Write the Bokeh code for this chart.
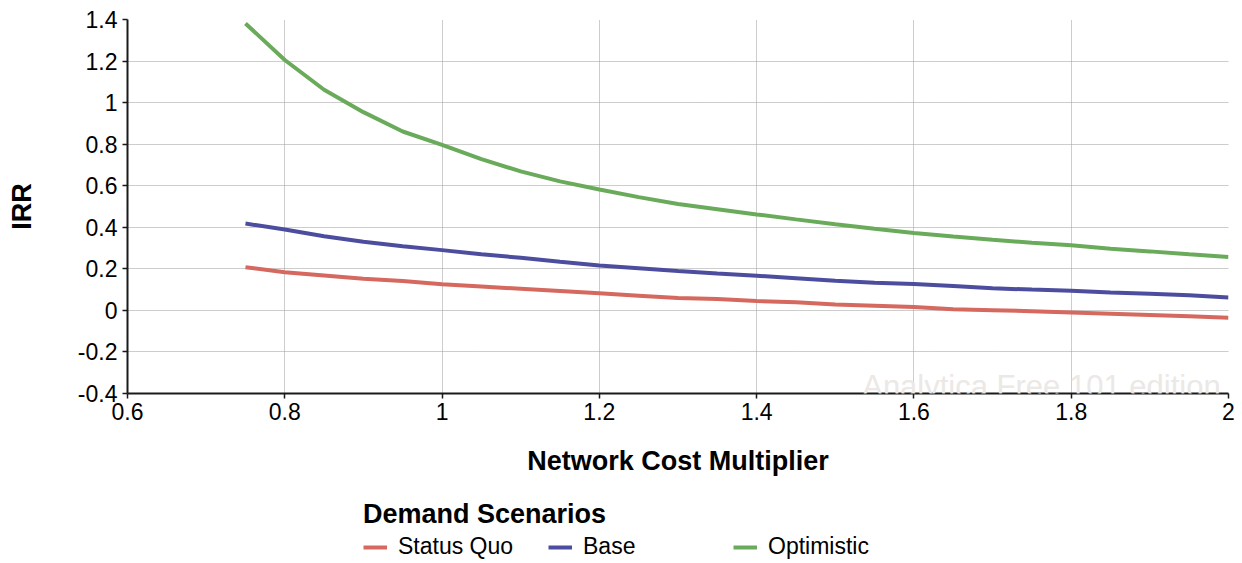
from bokeh.plotting import figure
from bokeh.layouts import column
from bokeh.models import Legend, LegendItem, FixedTicker, CustomJSTickFormatter, Label
from bokeh.embed import file_html
from bokeh.resources import INLINE

# ---- data ----
multiplier = [0.75, 0.80, 0.85, 0.90, 0.95, 1.00, 1.05, 1.10, 1.15, 1.20, 1.25, 1.30, 1.35,
              1.40, 1.45, 1.50, 1.55, 1.60, 1.65, 1.70, 1.75, 1.80, 1.85, 1.90, 1.95, 2.00]
status_quo = [0.208, 0.184, 0.168, 0.152, 0.141, 0.126, 0.115, 0.104, 0.093, 0.082, 0.071, 0.060, 0.055,
              0.045, 0.039, 0.028, 0.022, 0.016, 0.006, 0.001, -0.004, -0.010, -0.016, -0.022, -0.028, -0.035]
base = [0.418, 0.389, 0.357, 0.330, 0.309, 0.290, 0.270, 0.253, 0.234, 0.216, 0.203, 0.190, 0.178,
        0.167, 0.155, 0.143, 0.133, 0.127, 0.117, 0.106, 0.100, 0.095, 0.086, 0.080, 0.073, 0.062]
optimistic = [1.381, 1.205, 1.062, 0.954, 0.861, 0.797, 0.728, 0.669, 0.621, 0.582, 0.545, 0.512, 0.487,
              0.462, 0.438, 0.415, 0.393, 0.373, 0.356, 0.340, 0.325, 0.313, 0.297, 0.284, 0.270, 0.257]
series_names = ["Status Quo", "Base", "Optimistic"]
series_colors = ["#d5695f", "#4d4d9f", "#6aab5b"]
x_ticks = [0.6, 0.8, 1.0, 1.2, 1.4, 1.6, 1.8, 2.0]
y_ticks = [-0.4, -0.2, 0.0, 0.2, 0.4, 0.6, 0.8, 1.0, 1.2, 1.4]

FONT = "Liberation Sans"
W = 1240

p = figure(width=W, height=480, x_range=(0.6, 2.0), y_range=(-0.4, 1.4),
           output_backend="svg", toolbar_location=None,
           min_border_left=127, min_border_right=12, min_border_top=19, min_border_bottom=87)
p.outline_line_color = None
p.background_fill_color = "white"
p.border_fill_color = "white"

series = [status_quo, base, optimistic]
for ys, col in zip(series, series_colors):
    p.line(multiplier, ys, line_color=col, line_width=4)

# axes
fmt = CustomJSTickFormatter(code="return String(Number(tick.toFixed(2)));")
p.xaxis.ticker = FixedTicker(ticks=x_ticks)
p.yaxis.ticker = FixedTicker(ticks=y_ticks)
p.xaxis.formatter = fmt
p.yaxis.formatter = fmt
for ax in (p.xaxis, p.yaxis):
    ax.axis_line_color = "#1a1a1a"
    ax.axis_line_width = 2
    ax.major_tick_line_color = "#1a1a1a"
    ax.major_tick_line_width = 1.5
    ax.major_tick_out = 5
    ax.major_tick_in = 0
    ax.minor_tick_out = 0
    ax.minor_tick_in = 0
    ax.major_label_text_font = FONT
    ax.major_label_text_font_size = "23px"
    ax.major_label_text_color = "black"
    ax.axis_label_text_font = FONT
    ax.axis_label_text_font_size = "27px"
    ax.axis_label_text_font_style = "bold"
    ax.axis_label_text_color = "black"
p.xaxis.axis_label = "Network Cost Multiplier"
p.yaxis.axis_label = "IRR"
p.xaxis.major_label_standoff = 4
p.yaxis.major_label_standoff = 5
p.xaxis.axis_label_standoff = 23
p.yaxis.axis_label_standoff = 38

# grid
for g in (p.xgrid, p.ygrid):
    g.grid_line_color = "#9a9a9a"
    g.grid_line_dash = "1 1"
    g.grid_line_width = 1
p.xgrid.ticker = FixedTicker(ticks=x_ticks)
p.ygrid.ticker = FixedTicker(ticks=y_ticks)

# watermark
p.add_layout(Label(x=1.99, y=-0.365, text="Analytica Free 101 edition", text_align="right",
                   text_baseline="alphabetic", text_font=FONT, text_font_size="31px",
                   text_color="#ebe8e6"))

# ---- legend strip below the chart (its own renderers lie outside its view) ----
lg = figure(width=W, height=80, x_range=(100, 101), y_range=(100, 101),
            x_axis_type=None, y_axis_type=None, output_backend="svg", toolbar_location=None,
            min_border_left=0, min_border_right=0, min_border_top=0, min_border_bottom=0)
lg.outline_line_color = None
lg.background_fill_color = "white"
lg.border_fill_color = "white"
lg_renderers = [lg.line(multiplier, ys, line_color=col, line_width=4)
                for ys, col in zip(series, series_colors)]

legend = Legend(items=[LegendItem(label=n, renderers=[r]) for n, r in zip(series_names, lg_renderers)],
                orientation="horizontal", title="Demand Scenarios",
                title_text_font=FONT, title_text_font_size="27px", title_text_font_style="bold",
                title_text_color="black", title_standoff=3,
                label_text_font=FONT, label_text_font_size="23px", label_text_color="black",
                glyph_width=24, label_standoff=11, label_width=150, spacing=0,
                padding=0, margin=0, border_line_color=None, background_fill_alpha=0,
                location=(236, 0))
lg.add_layout(legend, "center")

layout = column(p, lg, spacing=0)
open("out.html", "w").write(file_html(layout, INLINE))
